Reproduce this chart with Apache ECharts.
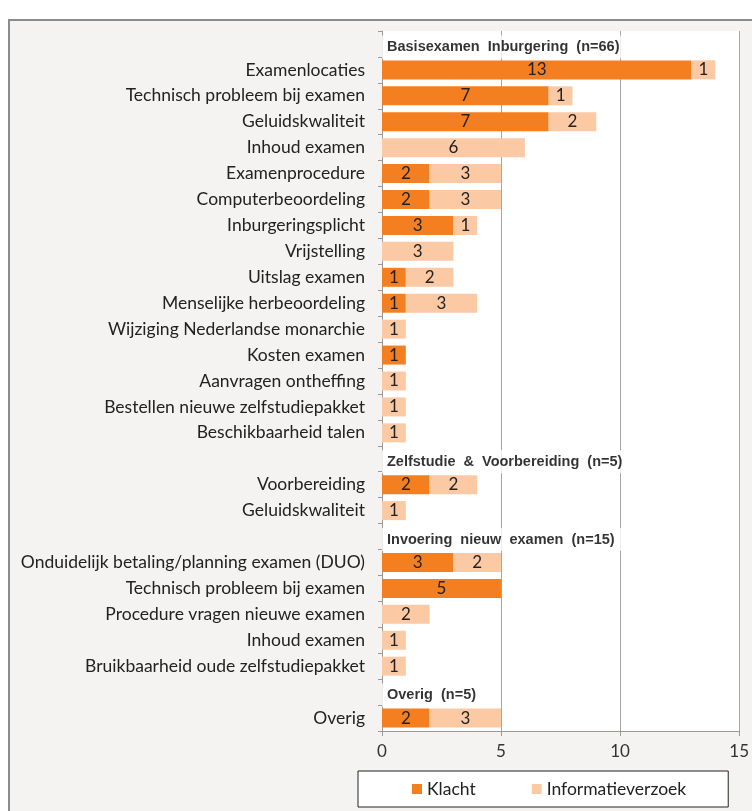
<!DOCTYPE html>
<html>
<head>
<meta charset="utf-8">
<script src="https://cdn.jsdelivr.net/npm/echarts@6/dist/echarts.min.js"></script>
<style>
  body{ margin:0; background:#fff; }
  #frame{
    position:absolute; left:8px; top:19px; width:760px; height:800px;
    border-left:2px solid #8c8c8c; border-top:2px solid #8c8c8c;
    background:#f4f3f1;
  }
  #main{ position:absolute; left:0; top:0; width:752px; height:811px; }
</style>
</head>
<body>
<div id="frame"></div>
<div id="main"></div>
<script>
  // rows top to bottom; null = section header row
  var categories = [
    null,
    'Examenlocaties',
    'Technisch probleem bij examen',
    'Geluidskwaliteit',
    'Inhoud examen',
    'Examenprocedure',
    'Computerbeoordeling',
    'Inburgeringsplicht',
    'Vrijstelling',
    'Uitslag examen',
    'Menselijke herbeoordeling',
    'Wijziging Nederlandse monarchie',
    'Kosten examen',
    'Aanvragen ontheffing',
    'Bestellen nieuwe zelfstudiepakket',
    'Beschikbaarheid talen',
    null,
    'Voorbereiding',
    'Geluidskwaliteit',
    null,
    'Onduidelijk betaling/planning examen (DUO)',
    'Technisch probleem bij examen',
    'Procedure vragen nieuwe examen',
    'Inhoud examen',
    'Bruikbaarheid oude zelfstudiepakket',
    null,
    'Overig'
  ];
  // section headers, keyed by row index
  var headerRows = [0, 16, 19, 25];
  var headerTexts = [
    'Basisexamen  Inburgering  (n=66)',
    'Zelfstudie  &  Voorbereiding  (n=5)',
    'Invoering  nieuw  examen  (n=15)',
    'Overig  (n=5)'
  ];
  var klacht = ['-',13,7,7,0,2,2,3,0,1,1,0,1,0,0,0,'-',2,0,'-',3,5,0,0,0,'-',2];
  var info   = ['-',1,1,2,6,3,3,1,3,2,3,1,0,1,1,1,'-',2,1,'-',2,0,2,1,1,'-',3];
  var xTicks = [0, 5, 10, 15];

  var chart = echarts.init(document.getElementById('main'));

  var valLabel = {
    show: true,
    position: 'inside',
    color: '#222',
    fontFamily: 'Lato',
    fontSize: 17,
    formatter: function(p){ return p.value > 0 ? p.value : ''; }
  };

  var headerData = headerRows.map(function(r, i){
    return { value: [0, r], name: headerTexts[i] };
  });

  chart.setOption({
    animation: false,
    backgroundColor: 'transparent',
    grid: { left: 382, right: 7, top: 31, bottom: 80, show: true, backgroundColor: '#fff', borderWidth: 0 },
    xAxis: {
      type: 'value',
      min: xTicks[0],
      max: xTicks[xTicks.length - 1],
      interval: 5,
      axisLine: { show: true, lineStyle: { color: '#9a9a9a' } },
      axisTick: { show: true, length: 5, lineStyle: { color: '#9a9a9a' } },
      axisLabel: { color: '#333', fontFamily: 'Lato', fontSize: 17, margin: 12 },
      splitLine: { show: true, lineStyle: { color: '#a6a6a6', width: 1 } }
    },
    yAxis: {
      type: 'category',
      inverse: true,
      data: categories.map(function(c, i){ return String(i); }),
      axisLine: { show: true, lineStyle: { color: '#9a9a9a' } },
      axisTick: { show: true, length: 4, lineStyle: { color: '#9a9a9a' } },
      axisLabel: {
        color: '#222', fontFamily: 'Lato', fontSize: 17.5, margin: 17,
        formatter: function(v){ return categories[+v] || ''; }
      }
    },
    legend: {
      left: 358,
      top: 771,
      padding: [9, 42, 9, 54],
      backgroundColor: '#fff',
      borderColor: '#222',
      borderWidth: 1,
      borderRadius: 0,
      itemWidth: 10,
      itemHeight: 10,
      itemGap: 56,
      icon: 'rect',
      textStyle: { color: '#222', fontFamily: 'Lato', fontSize: 17.5, padding: [0, 0, 0, 0] },
      data: ['Klacht', 'Informatieverzoek']
    },
    series: [
      {
        name: 'Klacht',
        type: 'bar',
        stack: 'total',
        barWidth: 19,
        itemStyle: { color: '#f47f20' },
        label: valLabel,
        data: klacht
      },
      {
        name: 'Informatieverzoek',
        type: 'bar',
        stack: 'total',
        barWidth: 19,
        itemStyle: { color: '#fbc9a4' },
        label: valLabel,
        data: info
      },
      {
        name: 'header',
        type: 'scatter',
        symbolSize: 0,
        z: 5,
        silent: true,
        label: {
          show: true,
          position: 'right',
          distance: 0,
          offset: [0, 3],
          formatter: '{b}',
          color: '#000',
          fontFamily: 'Liberation Sans',
          fontWeight: 'bold',
          fontSize: 14.5,
          backgroundColor: '#fff',
          padding: [4, 10, 4, 5]
        },
        data: headerData
      }
    ]
  });
</script>
</body>
</html>
